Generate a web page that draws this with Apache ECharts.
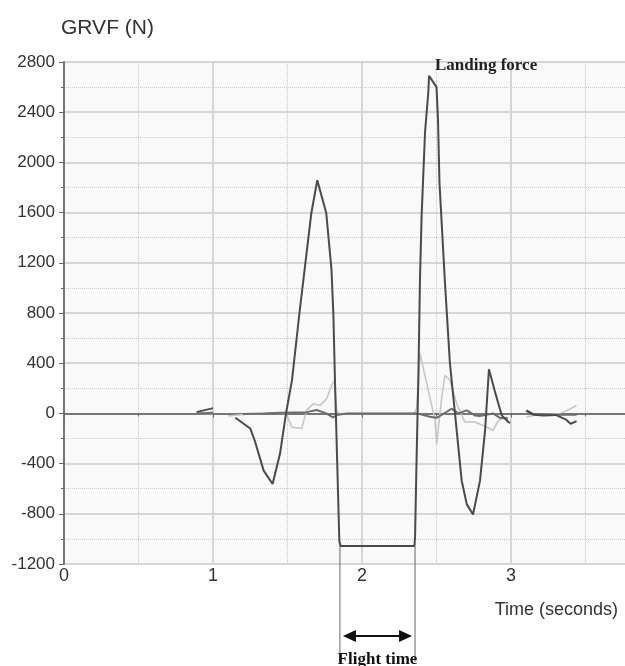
<!DOCTYPE html>
<html>
<head>
<meta charset="utf-8">
<script src="https://cdn.jsdelivr.net/npm/echarts@6/dist/echarts.min.js"></script>
<style>
html, body { margin: 0; padding: 0; background: #fff; }
#chart { width: 625px; height: 666px; }
</style>
</head>
<body>
<div id="chart"></div>
<script>
// vertical ground reaction force (dark) - null marks a gap in the trace
var vertTime  = [0.89, 1.0, null, 1.15, 1.25, 1.28, 1.34, 1.40, 1.45, 1.49, 1.53, 1.58, 1.66, 1.70, 1.76, 1.795, 1.808, 1.819, 1.848, 1.856, 2.352, 2.356, 2.367, 2.378, 2.389, 2.40, 2.423, 2.445, 2.45, 2.50, 2.51, 2.52, 2.557, 2.59, 2.624, 2.669, 2.703, 2.745, 2.792, 2.826, 2.852, 2.893, 2.938, 2.982, 2.995, null, 3.105, 3.15, 3.22, 3.30, 3.37, 3.40, 3.44];
var vertForce = [10, 42, null, -35, -120, -216, -456, -563, -320, 0, 264, 798, 1597, 1858, 1597, 1150, 784, 240, -1016, -1056, -1056, -989, -323, 264, 1064, 1570, 2240, 2557, 2690, 2600, 2344, 1837, 1037, 400, 0, -536, -723, -805, -536, -136, 352, 170, -16, -69, -75, null, 24, -10, -16, -12, -50, -83, -61];

// medio-lateral force (mid gray)
var mlTime  = [0.89, 1.0, null, 1.20, 1.35, 1.45, 1.55, 1.63, 1.696, 1.76, 1.805, 1.84, 1.90, 2.30, 2.367, 2.456, 2.501, 2.602, 2.646, 2.703, 2.758, 2.79, 2.879, 2.926, 2.98, null, 3.10, 3.15, 3.30, 3.44];
var mlForce = [0, 5, null, -5, 0, 5, 8, 10, 27, 0, -32, -10, 0, 0, 0, -27, -35, 37, 0, 24, -16, -20, 0, -35, -40, null, 20, -5, -10, -10];

// antero-posterior force (light gray)
var apTime  = [0.89, 1.0, null, 1.10, 1.18, 1.30, 1.40, 1.49, 1.53, 1.595, 1.628, 1.673, 1.718, 1.763, 1.797, 1.815, 1.83, 1.85, 1.87, 2.35, 2.367, 2.389, 2.445, 2.49, 2.501, 2.535, 2.557, 2.59, 2.636, 2.69, 2.758, 2.837, 2.88, 2.915, 2.971, null, 3.105, 3.17, 3.33, 3.40, 3.44];
var apForce = [0, 0, null, -20, -10, 0, 5, 0, -110, -120, 24, 77, 64, 117, 224, 264, 24, -5, 0, 0, 40, 477, 184, -56, -243, 130, 304, 264, 77, -69, -69, -109, -136, -56, -29, null, -29, -10, 0, 37, 64];

var yTicks = [-1200, -800, -400, 0, 400, 800, 1200, 1600, 2000, 2400, 2800];
var xTicks = [0, 1, 2, 3];

var flightStart = 1.852;
var flightEnd = 2.356;
var flightBottom = -1056;
var landingLabel = [2.49, 2770];

function pairs(t, v) {
	return t.map(function(x, i) {
		return x === null ? ['-', '-'] : [x, v[i]];
	});
}

var chart = echarts.init(document.getElementById('chart'));

var axisFont = { fontFamily: 'Liberation Sans, Arial, sans-serif', color: '#333' };

chart.setOption({
	animation: false,
	backgroundColor: '#fff',
	title: [
		{ text: 'GRVF (N)', left: 56, top: 13, textStyle: { fontFamily: axisFont.fontFamily, fontWeight: 'normal', fontSize: 21, color: '#333' } },
		{ text: 'Time (seconds)', right: 2, top: 596, textStyle: { fontFamily: axisFont.fontFamily, fontWeight: 'normal', fontSize: 18, color: '#333' } }
	],
	grid: { left: 64, top: 62, right: -35, bottom: 102, show: true, backgroundColor: '#f9f9f9', borderWidth: 0, outerBoundsMode: 'none', containLabel: false },
	xAxis: {
		type: 'value', min: 0, max: 4, interval: 1,
		axisLine: { lineStyle: { color: '#777', width: 2 } },
		axisTick: { length: 4, lineStyle: { color: '#666' } },
		minorTick: { show: true, splitNumber: 2, length: 3, lineStyle: { color: '#666' } },
		splitLine: { show: true, lineStyle: { color: '#d6d6d6', width: 2 } },
		minorSplitLine: { show: true, lineStyle: { color: '#c8c8c8', type: 'dotted', width: 1 } },
		axisLabel: Object.assign({ fontSize: 18, margin: 3, formatter: function(v) { return xTicks.indexOf(v) >= 0 ? String(v) : ''; } }, axisFont)
	},
	yAxis: {
		type: 'value', min: -1200, max: 2800, interval: 400,
		axisLine: { show: true, lineStyle: { color: '#777', width: 2 } },
		axisTick: { show: true, length: 5, lineStyle: { color: '#666' } },
		minorTick: { show: true, splitNumber: 2, length: 3, lineStyle: { color: '#666' } },
		splitLine: { show: true, lineStyle: { color: '#d6d6d6', width: 2 } },
		minorSplitLine: { show: true, lineStyle: { color: '#c8c8c8', type: 'dotted', width: 1 } },
		axisLabel: Object.assign({ fontSize: 17, margin: 9, formatter: function(v) { return yTicks.indexOf(v) >= 0 ? String(v) : ''; } }, axisFont)
	},
	series: [
		{ type: 'line', data: pairs(apTime, apForce), showSymbol: false, connectNulls: false, lineStyle: { color: '#c4c4c4', width: 1.5 }, z: 2 },
		{ type: 'line', data: pairs(mlTime, mlForce), showSymbol: false, connectNulls: false, lineStyle: { color: '#6c6c6c', width: 2 }, z: 3 },
		{ type: 'line', data: pairs(vertTime, vertForce), showSymbol: false, connectNulls: false, lineStyle: { color: '#4a4a4a', width: 2 }, z: 4 }
	]
});

// annotations placed through the axes
var a = chart.convertToPixel({ gridIndex: 0 }, [flightStart, flightBottom]);
var b = chart.convertToPixel({ gridIndex: 0 }, [flightEnd, flightBottom]);
var lp = chart.convertToPixel({ gridIndex: 0 }, landingLabel);
var arrowY = 636;
var serif = 'Liberation Serif, Times New Roman, serif';

chart.setOption({
	graphic: [
		{ type: 'line', shape: { x1: a[0], y1: a[1], x2: a[0], y2: 662 }, style: { stroke: '#666', lineWidth: 1 } },
		{ type: 'line', shape: { x1: b[0], y1: b[1], x2: b[0], y2: 662 }, style: { stroke: '#666', lineWidth: 1 } },
		{ type: 'line', shape: { x1: a[0] + 8, y1: arrowY, x2: b[0] - 8, y2: arrowY }, style: { stroke: '#111', lineWidth: 2 } },
		{ type: 'polygon', shape: { points: [[a[0] + 3, arrowY], [a[0] + 16, arrowY - 6], [a[0] + 16, arrowY + 6]] }, style: { fill: '#111' } },
		{ type: 'polygon', shape: { points: [[b[0] - 3, arrowY], [b[0] - 16, arrowY - 6], [b[0] - 16, arrowY + 6]] }, style: { fill: '#111' } },
		{ type: 'text', x: (a[0] + b[0]) / 2, y: 660, style: { text: 'Flight time', fontFamily: serif, fontWeight: 'bold', fontSize: 17, fill: '#111', align: 'center', verticalAlign: 'middle' } },
		{ type: 'text', x: lp[0], y: lp[1], style: { text: 'Landing force', fontFamily: serif, fontWeight: 'bold', fontSize: 17, fill: '#222', align: 'left', verticalAlign: 'middle' } }
	]
});
</script>
</body>
</html>
